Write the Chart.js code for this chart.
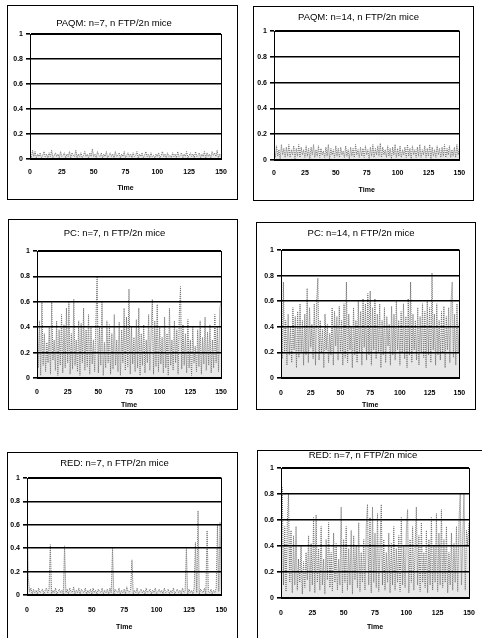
<!DOCTYPE html>
<html>
<head>
<meta charset="utf-8">
<script src="https://cdn.jsdelivr.net/npm/chart.js@4.4.1/dist/chart.umd.min.js"></script>
<style>
  html, body { margin: 0; padding: 0; background: #fff; }
  body { width: 482px; height: 638px; overflow: hidden; position: relative; }
  canvas { position: absolute; }
</style>
</head>
<body>
<script>
// x axis: time 0..150, one sample per time unit
const xTicks = [0, 25, 50, 75, 100, 125, 150];
const yTicks = [0, 0.2, 0.4, 0.6, 0.8, 1];

const titles = [
  'PAQM: n=7, n FTP/2n mice',
  'PAQM: n=14, n FTP/2n mice',
  'PC: n=7, n FTP/2n mice',
  'PC: n=14, n FTP/2n mice',
  'RED: n=7, n FTP/2n mice',
  'RED: n=7, n FTP/2n mice'
];

const paqm7 = [
  0.05,0.01,0.07,0.02,0.06,0.01,0.04,0.02,0.05,0.01,
  0.03,0.06,0.02,0.04,0.01,0.05,0.02,0.07,0.01,0.03,
  0.05,0.02,0.04,0.01,0.06,0.02,0.03,0.05,0.01,0.04,
  0.02,0.06,0.01,0.05,0.03,0.02,0.07,0.01,0.04,0.02,
  0.05,0.01,0.03,0.06,0.02,0.04,0.01,0.05,0.02,0.08,
  0.02,0.04,0.01,0.06,0.03,0.02,0.05,0.01,0.04,0.02,
  0.06,0.01,0.03,0.05,0.02,0.04,0.01,0.06,0.02,0.03,
  0.05,0.01,0.04,0.02,0.06,0.01,0.03,0.05,0.02,0.04,
  0.01,0.05,0.02,0.03,0.06,0.01,0.04,0.02,0.05,0.01,
  0.03,0.06,0.02,0.04,0.01,0.05,0.02,0.03,0.01,0.04,
  0.02,0.05,0.01,0.03,0.06,0.02,0.04,0.01,0.05,0.02,
  0.03,0.01,0.05,0.02,0.04,0.01,0.06,0.02,0.03,0.05,
  0.01,0.04,0.02,0.06,0.01,0.03,0.05,0.02,0.04,0.01,
  0.06,0.02,0.03,0.05,0.01,0.04,0.02,0.06,0.01,0.05,
  0.02,0.04,0.01,0.06,0.03,0.05,0.02,0.07,0.01,0.04,0.02
];

const paqm14 = [
  0.09,0.02,0.11,0.03,0.08,0.01,0.12,0.04,0.09,0.02,
  0.10,0.03,0.12,0.02,0.08,0.04,0.11,0.01,0.09,0.03,
  0.12,0.02,0.10,0.04,0.08,0.02,0.11,0.03,0.09,0.01,
  0.10,0.04,0.12,0.02,0.08,0.03,0.11,0.02,0.09,0.04,
  0.07,0.02,0.10,0.03,0.12,0.01,0.09,0.04,0.08,0.02,
  0.11,0.03,0.09,0.02,0.10,0.04,0.07,0.02,0.11,0.03,
  0.08,0.01,0.10,0.03,0.09,0.02,0.12,0.04,0.08,0.02,
  0.10,0.03,0.09,0.02,0.11,0.04,0.08,0.01,0.10,0.03,
  0.12,0.02,0.09,0.04,0.11,0.03,0.13,0.02,0.10,0.04,
  0.08,0.02,0.11,0.03,0.09,0.01,0.10,0.04,0.12,0.02,
  0.09,0.03,0.11,0.02,0.08,0.04,0.10,0.02,0.12,0.03,
  0.09,0.01,0.11,0.04,0.08,0.02,0.10,0.03,0.12,0.02,
  0.08,0.04,0.11,0.02,0.09,0.03,0.12,0.01,0.10,0.03,
  0.08,0.02,0.11,0.04,0.09,0.02,0.10,0.03,0.12,0.02,
  0.09,0.04,0.11,0.02,0.08,0.03,0.10,0.02,0.12,0.04,0.09
];

const pc7 = [
  0.58,0.08,0.45,0.02,0.60,0.10,0.35,0.05,0.28,0.12,
  0.40,0.03,0.60,0.14,0.30,0.06,0.45,0.02,0.38,0.10,
  0.50,0.04,0.42,0.08,0.55,0.12,0.60,0.03,0.35,0.07,
  0.62,0.10,0.30,0.05,0.45,0.02,0.43,0.12,0.55,0.06,
  0.38,0.09,0.50,0.03,0.40,0.11,0.30,0.05,0.45,0.80,
  0.04,0.40,0.10,0.60,0.02,0.28,0.08,0.45,0.12,0.42,
  0.03,0.35,0.07,0.50,0.10,0.30,0.05,0.44,0.02,0.38,
  0.12,0.55,0.06,0.48,0.09,0.70,0.03,0.40,0.11,0.32,
  0.05,0.46,0.08,0.55,0.02,0.35,0.10,0.42,0.04,0.30,
  0.12,0.50,0.06,0.38,0.62,0.03,0.45,0.09,0.58,0.05,
  0.40,0.11,0.32,0.04,0.48,0.08,0.35,0.02,0.55,0.10,
  0.30,0.06,0.45,0.12,0.38,0.03,0.50,0.72,0.07,0.42,
  0.10,0.35,0.04,0.46,0.08,0.30,0.02,0.40,0.12,0.25,
  0.05,0.38,0.09,0.45,0.03,0.32,0.11,0.48,0.06,0.36,
  0.10,0.42,0.04,0.30,0.08,0.50,0.12,0.40,0.05,0.55,0.60
];

const pc14 = [
  0.55,0.15,0.75,0.20,0.45,0.10,0.50,0.18,0.40,0.12,
  0.55,0.22,0.48,0.08,0.52,0.16,0.58,0.20,0.45,0.10,
  0.50,0.18,0.70,0.12,0.55,0.24,0.42,0.15,0.58,0.10,
  0.60,0.78,0.14,0.45,0.20,0.38,0.08,0.50,0.22,0.42,
  0.12,0.35,0.18,0.55,0.10,0.52,0.25,0.48,0.14,0.56,
  0.20,0.45,0.10,0.58,0.16,0.75,0.12,0.50,0.22,0.40,
  0.08,0.55,0.18,0.45,0.12,0.60,0.20,0.52,0.10,0.62,
  0.24,0.58,0.14,0.66,0.18,0.68,0.10,0.55,0.22,0.62,
  0.15,0.50,0.20,0.58,0.08,0.45,0.18,0.55,0.12,0.48,
  0.25,0.42,0.10,0.56,0.18,0.50,0.14,0.60,0.22,0.45,
  0.10,0.52,0.20,0.58,0.15,0.48,0.08,0.62,0.18,0.75,
  0.12,0.50,0.22,0.45,0.14,0.55,0.10,0.48,0.20,0.58,
  0.16,0.52,0.08,0.60,0.18,0.55,0.12,0.82,0.22,0.50,
  0.10,0.58,0.18,0.45,0.14,0.52,0.20,0.56,0.08,0.48,
  0.22,0.55,0.12,0.60,0.75,0.16,0.50,0.10,0.58,0.20,0.45
];

const redLeft = [
  0.80,0.15,0.03,0.06,0.01,0.05,0.02,0.04,0.01,0.06,
  0.02,0.03,0.05,0.01,0.04,0.06,0.02,0.05,0.43,0.01,
  0.04,0.02,0.06,0.01,0.03,0.05,0.02,0.04,0.01,0.42,
  0.02,0.05,0.01,0.06,0.03,0.02,0.07,0.01,0.04,0.02,
  0.06,0.01,0.05,0.03,0.02,0.06,0.01,0.04,0.02,0.05,
  0.01,0.06,0.02,0.04,0.01,0.05,0.03,0.02,0.06,0.01,
  0.04,0.02,0.05,0.01,0.06,0.02,0.40,0.01,0.05,0.03,
  0.02,0.06,0.01,0.04,0.02,0.05,0.01,0.07,0.03,0.02,
  0.05,0.30,0.01,0.04,0.02,0.06,0.01,0.03,0.05,0.02,
  0.04,0.01,0.06,0.02,0.03,0.05,0.01,0.04,0.02,0.06,
  0.01,0.03,0.05,0.02,0.04,0.01,0.06,0.02,0.03,0.05,
  0.01,0.04,0.02,0.06,0.01,0.03,0.05,0.02,0.04,0.01,
  0.06,0.02,0.03,0.40,0.01,0.05,0.02,0.04,0.01,0.06,
  0.45,0.02,0.72,0.01,0.05,0.03,0.02,0.06,0.01,0.55,
  0.03,0.02,0.05,0.01,0.04,0.02,0.06,0.60,0.03,0.62,0.04
];

const redRight = [
  0.60,0.85,0.10,0.55,0.05,0.58,0.80,0.12,0.52,0.04,
  0.48,0.10,0.55,0.06,0.30,0.12,0.40,0.03,0.28,0.08,
  0.35,0.14,0.48,0.05,0.42,0.10,0.62,0.04,0.64,0.12,
  0.38,0.06,0.55,0.10,0.30,0.03,0.45,0.14,0.58,0.08,
  0.35,0.05,0.50,0.12,0.42,0.06,0.30,0.10,0.70,0.04,
  0.45,0.12,0.55,0.06,0.38,0.10,0.52,0.03,0.48,0.14,
  0.40,0.08,0.58,0.05,0.35,0.12,0.45,0.06,0.55,0.72,
  0.10,0.62,0.04,0.70,0.12,0.50,0.08,0.65,0.05,0.40,
  0.72,0.10,0.45,0.06,0.35,0.12,0.50,0.04,0.42,0.10,
  0.55,0.06,0.38,0.12,0.48,0.05,0.62,0.10,0.40,0.08,
  0.52,0.68,0.04,0.45,0.12,0.55,0.06,0.40,0.70,0.10,
  0.48,0.05,0.58,0.12,0.35,0.08,0.52,0.04,0.45,0.10,
  0.62,0.06,0.40,0.12,0.65,0.05,0.50,0.10,0.68,0.08,
  0.45,0.12,0.55,0.04,0.35,0.10,0.50,0.06,0.42,0.12,
  0.55,0.05,0.60,0.80,0.10,0.48,0.80,0.06,0.52,0.40,0.58
];

const series = [paqm7, paqm14, pc7, pc14, redLeft, redRight];

// page geometry: frame box, plot area, and text centre lines
const panels = [
  { frame: [7, 5, 231, 195],   plot: [30, 34, 221, 159],  titleY: 23,  labelY: 172, timeY: 188 },
  { frame: [253, 6, 221, 195], plot: [274, 31, 464, 160], titleY: 17,  labelY: 173, timeY: 190 },
  { frame: [8, 219, 230, 191], plot: [37, 251, 221, 378], titleY: 233, labelY: 392, timeY: 405 },
  { frame: [256, 222, 220, 188], plot: [281, 250, 466, 378], titleY: 233, labelY: 393, timeY: 405 },
  { frame: [7, 452, 231, 200], plot: [27, 478, 222, 595], titleY: 463, labelY: 610, timeY: 627 },
  { frame: [257, 450, 230, 200], plot: [281, 468, 469, 598], titleY: 455, labelY: 613, timeY: 627 }
];

const FONT = '"Liberation Sans", Arial, sans-serif';
const TITLE_SIZE = 9.5, TICK_SIZE = 7;

// frame + plot border
const boxPlugin = {
  id: 'boxes',
  afterDraw(chart) {
    const { ctx, chartArea: a, width, height } = chart;
    ctx.save();
    ctx.strokeStyle = '#000';
    ctx.lineWidth = 1;
    ctx.strokeRect(0.5, 0.5, width - 1, height - 1);
    ctx.strokeRect(Math.round(a.left) + 0.5, Math.round(a.top) + 0.5,
                   Math.round(a.right - a.left), Math.round(a.bottom - a.top));
    ctx.restore();
  }
};

panels.forEach((p, i) => {
  const [fx, fy, fw, fh] = p.frame;
  const [pl, pt, pr, pb] = p.plot;
  const canvas = document.createElement('canvas');
  canvas.width = fw;
  canvas.height = fh;
  canvas.style.left = fx + 'px';
  canvas.style.top = fy + 'px';
  canvas.style.width = fw + 'px';
  canvas.style.height = fh + 'px';
  document.body.appendChild(canvas);

  const titleLH = TITLE_SIZE * 1.2;
  const tickLH = TICK_SIZE * 1.2;
  const titleTop = p.titleY - fy - titleLH / 2;
  const titleBottom = (pt - fy) - titleTop - titleLH;
  const xAxisH = fy + fh - pb;

  new Chart(canvas, {
    type: 'line',
    data: {
      datasets: [{
        data: series[i].map((v, t) => ({ x: t, y: v })),
        borderColor: '#707070',
        backgroundColor: 'rgba(150,150,150,0.22)',
        borderWidth: 1,
        borderDash: [1, 1],
        pointRadius: 0,
        tension: 0,
        fill: 'origin'
      }]
    },
    options: {
      responsive: false,
      animation: false,
      devicePixelRatio: 1,
      layout: { padding: { left: 0, right: fx + fw - pr, top: 0, bottom: 0 } },
      plugins: {
        legend: { display: false },
        tooltip: { enabled: false },
        title: {
          display: true,
          text: titles[i],
          color: '#000',
          font: { family: FONT, size: TITLE_SIZE, weight: 'normal', lineHeight: 1.2 },
          padding: { top: titleTop, bottom: titleBottom }
        }
      },
      scales: {
        x: {
          type: 'linear',
          min: 0, max: 150,
          afterBuildTicks: s => { s.ticks = xTicks.map(v => ({ value: v })); },
          afterFit: s => { s.height = xAxisH; },
          grid: { display: false, drawTicks: false },
          border: { display: false },
          ticks: {
            color: '#000', maxRotation: 0, autoSkip: false,
            padding: p.labelY - pb - tickLH / 2,
            font: { family: FONT, size: TICK_SIZE, weight: 'bold' }
          },
          title: {
            display: true, text: 'Time', color: '#000',
            font: { family: FONT, size: TICK_SIZE, weight: 'bold', lineHeight: 1.2 },
            padding: { top: 0, bottom: fy + fh - p.timeY - tickLH / 2 }
          }
        },
        y: {
          min: 0, max: 1,
          afterBuildTicks: s => { s.ticks = yTicks.map(v => ({ value: v })); },
          afterFit: s => { s.width = pl - fx; },
          grid: { color: '#000', lineWidth: 1.6, tickLength: 4, z: 1 },
          border: { display: true, color: '#000', width: 1 },
          ticks: {
            color: '#000', padding: 3,
            font: { family: FONT, size: TICK_SIZE, weight: 'bold' },
            callback: v => String(v)
          }
        }
      }
    },
    plugins: [boxPlugin]
  });
});
</script>
</body>
</html>
